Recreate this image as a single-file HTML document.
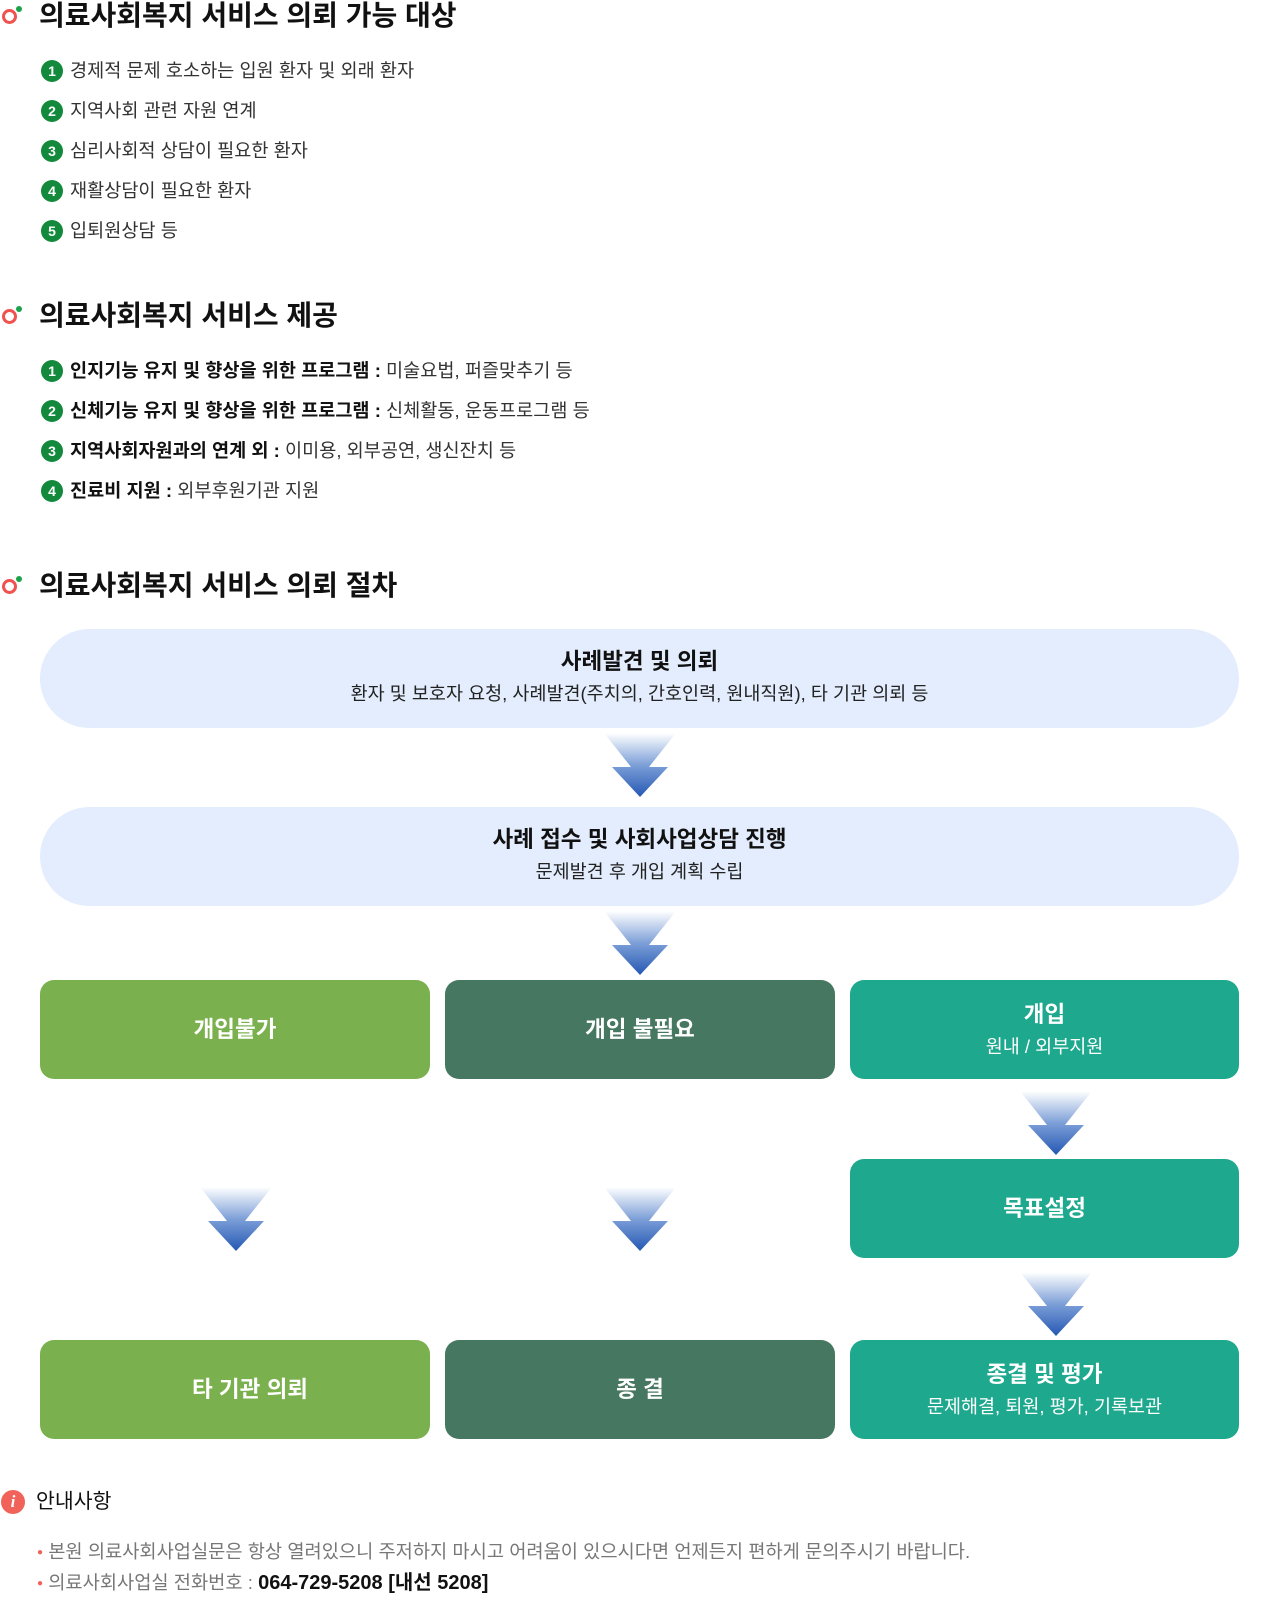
<!DOCTYPE html>
<html><head><meta charset="utf-8">
<style>
*{margin:0;padding:0;box-sizing:border-box}
body{width:1280px;height:1609px;background:#fff;position:relative;font-family:"Liberation Sans","Noto Sans CJK KR",sans-serif;color:#222;overflow:hidden}
.a{position:absolute}
.h{position:absolute;left:39px;font-size:28px;font-weight:bold;color:#111;line-height:30px;transform:translateY(-50%);white-space:nowrap}
.ic{position:absolute;left:2px;width:15px;height:15px;border:3.5px solid #f0524f;border-radius:50%}
.dot{position:absolute;left:16px;width:6px;height:6px;background:#1aa34a;border-radius:50%}
.li{position:absolute;left:41px;height:22px;line-height:22px;font-size:18.6px;color:#333;white-space:nowrap;transform:translateY(-50%)}
.li i{display:inline-block;width:22px;height:22px;border-radius:50%;background:#138a3b;color:#fff;font-style:normal;font-weight:bold;font-size:14px;text-align:center;line-height:22px;margin-right:7px;vertical-align:top}
.li b{color:#111}
.big{position:absolute;left:40px;width:1199px;height:99px;border-radius:50px;background:#e3edfd;text-align:center}
.big .t{font-size:22.5px;font-weight:bold;color:#111;margin-top:19px;line-height:28px}
.big .s{font-size:18.5px;color:#222;margin-top:6px;line-height:24px}
.bx{position:absolute;height:99px;border-radius:14px;color:#fff;text-align:center;display:flex;flex-direction:column;justify-content:center;align-items:center}
.bx .t{font-size:22.5px;font-weight:bold;line-height:28px}
.bx .s{font-size:18.5px;line-height:24px;margin-top:6px}
.g1{background:#7ab04d}.g2{background:#467761}.g3{background:#1ea88e}
.ar{position:absolute;width:80px;height:64px}
</style></head><body>
<svg width="0" height="0" style="position:absolute"><defs><linearGradient id="gr" x1="0" y1="0" x2="0" y2="1"><stop offset="0" stop-color="#fff"/><stop offset="0.5" stop-color="#7d9fd8"/><stop offset="1" stop-color="#2458b3"/></linearGradient></defs></svg>

<div class="ic" style="top:9px"></div><div class="dot" style="top:6px"></div>
<div class="h" style="top:16px">의료사회복지 서비스 의뢰 가능 대상</div>
<div class="li" style="top:71px"><i>1</i>경제적 문제 호소하는 입원 환자 및 외래 환자</div>
<div class="li" style="top:111px"><i>2</i>지역사회 관련 자원 연계</div>
<div class="li" style="top:151px"><i>3</i>심리사회적 상담이 필요한 환자</div>
<div class="li" style="top:191px"><i>4</i>재활상담이 필요한 환자</div>
<div class="li" style="top:231px"><i>5</i>입퇴원상담 등</div>

<div class="ic" style="top:309px"></div><div class="dot" style="top:306px"></div>
<div class="h" style="top:316px">의료사회복지 서비스 제공</div>
<div class="li" style="top:371px"><i>1</i><b>인지기능 유지 및 향상을 위한 프로그램 :</b> 미술요법, 퍼즐맞추기 등</div>
<div class="li" style="top:411px"><i>2</i><b>신체기능 유지 및 향상을 위한 프로그램 :</b> 신체활동, 운동프로그램 등</div>
<div class="li" style="top:451px"><i>3</i><b>지역사회자원과의 연계 외 :</b> 이미용, 외부공연, 생신잔치 등</div>
<div class="li" style="top:491px"><i>4</i><b>진료비 지원 :</b> 외부후원기관 지원</div>

<div class="ic" style="top:579px"></div><div class="dot" style="top:576px"></div>
<div class="h" style="top:586px">의료사회복지 서비스 의뢰 절차</div>

<div class="big" style="top:629px"><div class="t">사례발견 및 의뢰</div><div class="s">환자 및 보호자 요청, 사례발견(주치의, 간호인력, 원내직원), 타 기관 의뢰 등</div></div>
<svg class="ar" style="left:600px;top:733px" viewBox="0 0 80 64"><polygon points="4,0 76,0 49,34 68,34 40,64 12,34 31,34" fill="url(#gr)"/></svg>
<div class="big" style="top:807px"><div class="t">사례 접수 및 사회사업상담 진행</div><div class="s">문제발견 후 개입 계획 수립</div></div>
<svg class="ar" style="left:600px;top:911px" viewBox="0 0 80 64"><polygon points="4,0 76,0 49,34 68,34 40,64 12,34 31,34" fill="url(#gr)"/></svg>

<div class="bx g1" style="left:40px;top:980px;width:390px"><div class="t">개입불가</div></div>
<div class="bx g2" style="left:445px;top:980px;width:390px"><div class="t">개입 불필요</div></div>
<div class="bx g3" style="left:850px;top:980px;width:389px"><div class="t">개입</div><div class="s">원내 / 외부지원</div></div>

<svg class="ar" style="left:1016px;top:1091px" viewBox="0 0 80 64"><polygon points="4,0 76,0 49,34 68,34 40,64 12,34 31,34" fill="url(#gr)"/></svg>
<div class="bx g3" style="left:850px;top:1159px;width:389px"><div class="t">목표설정</div></div>
<svg class="ar" style="left:196px;top:1187px" viewBox="0 0 80 64"><polygon points="4,0 76,0 49,34 68,34 40,64 12,34 31,34" fill="url(#gr)"/></svg>
<svg class="ar" style="left:600px;top:1187px" viewBox="0 0 80 64"><polygon points="4,0 76,0 49,34 68,34 40,64 12,34 31,34" fill="url(#gr)"/></svg>
<svg class="ar" style="left:1016px;top:1272px" viewBox="0 0 80 64"><polygon points="4,0 76,0 49,34 68,34 40,64 12,34 31,34" fill="url(#gr)"/></svg>

<div class="bx g1" style="left:40px;top:1340px;width:390px"><div class="t" style="margin-left:30px">타 기관 의뢰</div></div>
<div class="bx g2" style="left:445px;top:1340px;width:390px"><div class="t">종 결</div></div>
<div class="bx g3" style="left:850px;top:1340px;width:389px"><div class="t">종결 및 평가</div><div class="s">문제해결, 퇴원, 평가, 기록보관</div></div>

<div class="a" style="left:1px;top:1490px;width:24px;height:24px;border-radius:50%;background:#f0625a;color:#fff;font-family:'Liberation Serif',serif;font-style:italic;font-weight:bold;font-size:17px;text-align:center;line-height:24px">i</div>
<div class="a" style="left:36px;top:1488px;font-size:20.5px;line-height:28px;color:#111">안내사항</div>
<div class="a" style="left:37px;top:1541px;font-size:18.7px;line-height:22px;color:#777;white-space:nowrap"><span style="color:#f0625a;font-size:10px;vertical-align:middle">●</span> 본원 의료사회사업실문은 항상 열려있으니 주저하지 마시고 어려움이 있으시다면 언제든지 편하게 문의주시기 바랍니다.</div>
<div class="a" style="left:37px;top:1572px;font-size:18.7px;line-height:22px;color:#777;white-space:nowrap"><span style="color:#f0625a;font-size:10px;vertical-align:middle">●</span> 의료사회사업실 전화번호 : <b style="color:#111;font-size:20px">064-729-5208 [내선 5208]</b></div>
</body></html>
